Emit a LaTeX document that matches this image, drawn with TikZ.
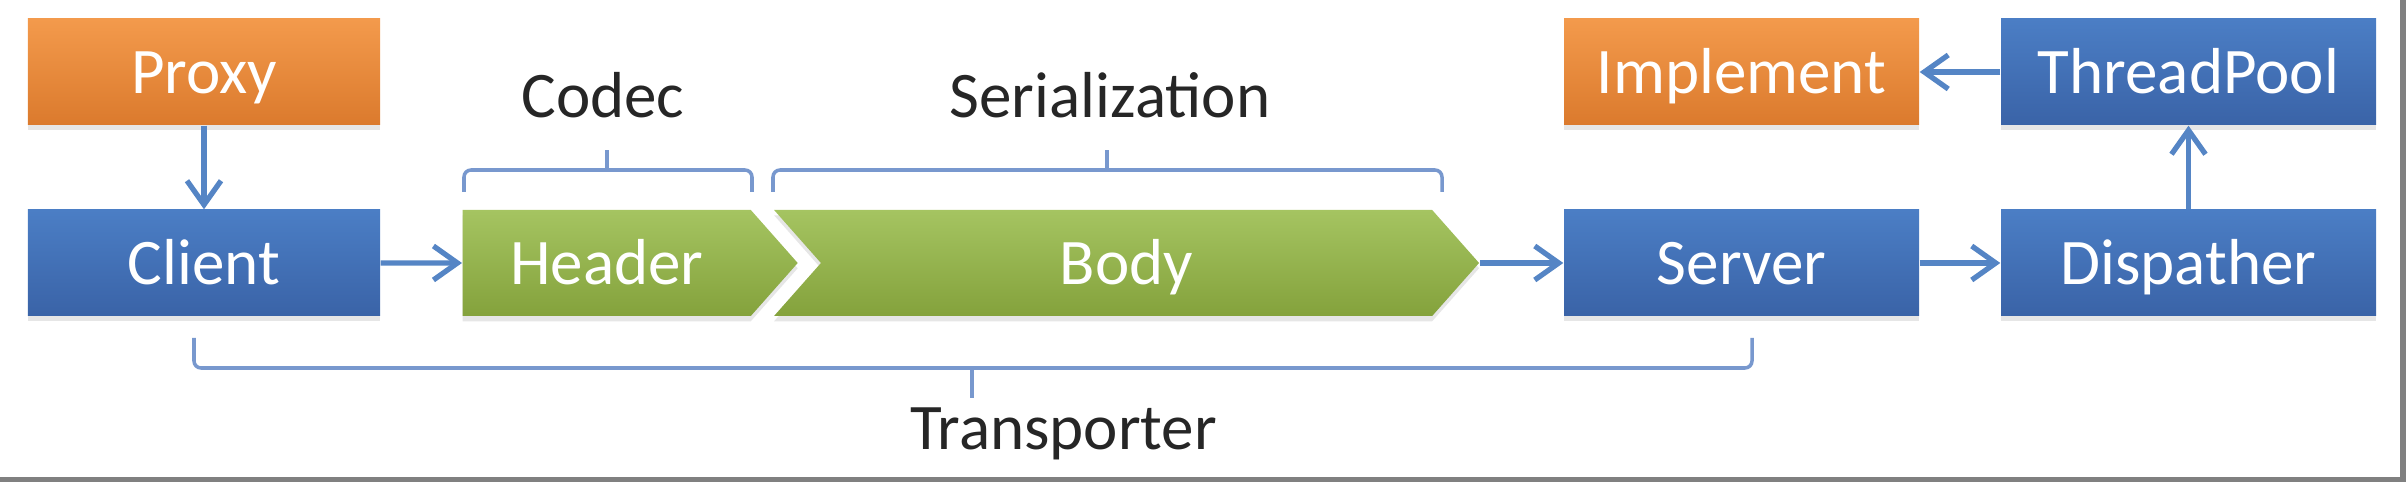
\documentclass[tikz,border=0pt]{standalone}
\usepackage{fontspec}
\setmainfont{Carlito}
\usetikzlibrary{positioning,arrows.meta,shapes.symbols,shadows}
\definecolor{rpcAzul}{HTML}{4B7EC5}
\definecolor{rpcAzulOsc}{HTML}{3A63A7}
\definecolor{rpcNaranja}{HTML}{F39A4C}
\definecolor{rpcNaranjaOsc}{HTML}{DB7A2D}
\definecolor{rpcVerde}{HTML}{A5C461}
\definecolor{rpcVerdeOsc}{HTML}{84A23C}
\definecolor{rpcLinea}{HTML}{5585C5}
\definecolor{rpcLlave}{HTML}{7898CE}
\definecolor{rpcMarco}{HTML}{808080}
\tikzset{
  modulo/.style={rectangle, top color=rpcAzul, bottom color=rpcAzulOsc,
    minimum width=3.55cm, minimum height=1.06cm, text=white,
    font=\fontsize{18.5}{22}\selectfont, text height=12.5pt, text depth=0pt,
    drop shadow={shadow xshift=0pt, shadow yshift=-1.5pt, opacity=0.2}},
  moduloNaranja/.style={modulo, top color=rpcNaranja, bottom color=rpcNaranjaOsc},
  trama/.style={signal, signal to=east, signal pointer angle=97,
    top color=rpcVerde, bottom color=rpcVerdeOsc, minimum height=1.06cm,
    inner sep=0pt, text=white, font=\fontsize{18.5}{22}\selectfont,
    text height=12.5pt, text depth=0pt,
    drop shadow={shadow xshift=0pt, shadow yshift=-1.5pt, opacity=0.2}},
  flechaRpc/.style={-{Straight Barb[length=2.4mm, width=3.4mm]}, line width=1.5pt, rpcLinea},
  llave/.style={rpcLlave, line width=1pt, rounded corners=2pt},
  etiqueta/.style={anchor=base, text=black!85, font=\fontsize{18.5}{22}\selectfont},
}
\begin{document}
\begin{tikzpicture}
  \useasboundingbox (0,0) rectangle (24.06,4.82);
  % client side
  \node[moduloNaranja, minimum width=3.52cm] (proxy)  at (2.04,4.10) {Proxy};
  \node[modulo, minimum width=3.52cm]        (client) at (2.04,2.19) {Client};
  % message
  \node[trama, minimum width=3.35cm, anchor=west] (header) at (4.62,2.19) {Header};
  \node[trama, signal from=west, minimum width=7.05cm, anchor=east] (body) at (14.80,2.19) {Body};
  % server side
  \node[modulo]                       (server)     at (17.415,2.19) {Server};
  \node[modulo, minimum width=3.75cm] (dispather)  at (21.885,2.19) {Dispather};
  \node[moduloNaranja]                (implement)  at (17.415,4.10) {Implement};
  \node[modulo, minimum width=3.75cm] (threadpool) at (21.885,4.10) {ThreadPool};

  \draw[flechaRpc] (proxy) -- (client);
  \draw[flechaRpc] (client) -- (header);
  \draw[flechaRpc] (body.east) -- (server);
  \draw[flechaRpc] (server) -- (dispather);
  \draw[flechaRpc] (dispather) -- (threadpool);
  \draw[flechaRpc] (threadpool) -- (implement);

  % brackets
  \node[etiqueta] (codec) at (6.03,3.64) {Codec};
  \draw[llave] (4.64,2.90) -- (4.64,3.12) -- (7.52,3.12) -- (7.52,2.90);
  \draw[llave] (6.07,3.12) -- (6.07,3.32);
  \node[etiqueta] (serialization) at (11.10,3.64) {Serialization};
  \draw[llave] (7.73,2.90) -- (7.73,3.12) -- (14.42,3.12) -- (14.42,2.90);
  \draw[llave] (11.07,3.12) -- (11.07,3.32);
  \node[etiqueta] (transporter) at (10.635,0.32) {Transporter};
  \draw[llave] (1.94,1.44) -- (1.94,1.14) -- (17.52,1.14) -- (17.52,1.44);
  \draw[llave] (9.72,1.14) -- (9.72,0.84);

  % frame
  \fill[rpcMarco] (0,0) rectangle (24.06,0.045);
  \fill[rpcMarco] (24.00,0) rectangle (24.06,4.82);
\end{tikzpicture}
\end{document}
